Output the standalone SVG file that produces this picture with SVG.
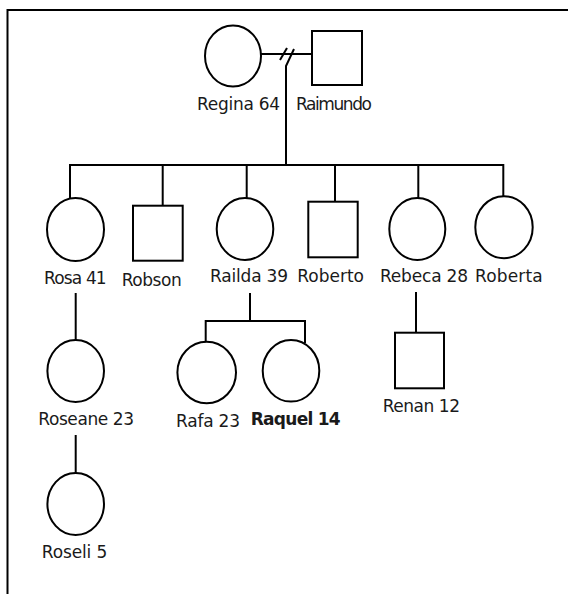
<svg xmlns="http://www.w3.org/2000/svg" width="568" height="594" viewBox="0 0 568 594">
<style>
.s{fill:#fff;stroke:#000;stroke-width:2}
.l{fill:none;stroke:#000;stroke-width:2}
text{font-family:"DejaVu Sans","Liberation Sans",sans-serif;font-size:17px;fill:#1a1a1a}
.b{font-weight:bold}
</style>
<rect width="568" height="594" fill="#fff"/>
<path class="l" d="M7.5,594 V10 H568"/>
<g id="connectors">
<line class="l" x1="261" y1="54" x2="312" y2="54"/>
<line class="l" x1="280" y1="60" x2="287" y2="48"/>
<path class="l" d="M294,49 L286,66 V165"/>
<line class="l" x1="70" y1="165" x2="503.5" y2="165"/>
<line class="l" x1="70" y1="164" x2="70" y2="198"/>
<line class="l" x1="162.7" y1="165" x2="162.7" y2="206"/>
<line class="l" x1="246.7" y1="165" x2="246.7" y2="198"/>
<line class="l" x1="335" y1="165" x2="335" y2="202"/>
<line class="l" x1="418.3" y1="165" x2="418.3" y2="198"/>
<line class="l" x1="503.3" y1="164" x2="503.3" y2="196"/>
<line class="l" x1="75.7" y1="293" x2="75.7" y2="340"/>
<line class="l" x1="75.7" y1="435" x2="75.7" y2="473"/>
<line class="l" x1="250" y1="293" x2="250" y2="321"/>
<line class="l" x1="205.7" y1="321" x2="305" y2="321"/>
<line class="l" x1="205.7" y1="320" x2="205.7" y2="342"/>
<line class="l" x1="305" y1="320" x2="305" y2="343"/>
<line class="l" x1="416" y1="292" x2="416" y2="333"/>
</g>
<g id="regina"><ellipse class="s" cx="233" cy="56" rx="28" ry="30.5"/><text x="197" y="110" textLength="83">Regina 64</text></g>
<g id="raimundo"><rect class="s" x="312" y="31" width="50" height="54"/><text x="296" y="110" textLength="76">Raimundo</text></g>
<g id="rosa"><ellipse class="s" cx="75.5" cy="229.5" rx="28.5" ry="31.5"/><text x="44" y="283.5" textLength="62.7">Rosa 41</text></g>
<g id="robson"><rect class="s" x="133" y="205.7" width="49.7" height="55"/><text x="121.7" y="285.5" textLength="60">Robson</text></g>
<g id="railda"><ellipse class="s" cx="245" cy="229" rx="28.3" ry="31"/><text x="210" y="282" textLength="78">Railda 39</text></g>
<g id="roberto"><rect class="s" x="308.3" y="201.7" width="49.4" height="55.6"/><text x="297.3" y="282" textLength="66.7">Roberto</text></g>
<g id="rebeca"><ellipse class="s" cx="417.3" cy="229" rx="28" ry="31"/><text x="380" y="282" textLength="88">Rebeca 28</text></g>
<g id="roberta"><ellipse class="s" cx="504" cy="227.2" rx="28.7" ry="31"/><text x="475" y="281.5" textLength="67.7">Roberta</text></g>
<g id="roseane"><ellipse class="s" cx="75.7" cy="371" rx="28.3" ry="31"/><text x="38.3" y="425" textLength="95.7">Roseane 23</text></g>
<g id="roseli"><ellipse class="s" cx="75.7" cy="504" rx="28.3" ry="31"/><text x="41.7" y="558.3" textLength="65.6">Roseli 5</text></g>
<g id="rafa"><ellipse class="s" cx="206.7" cy="372.5" rx="29.3" ry="30.8"/><text x="176" y="426.7" textLength="64">Rafa 23</text></g>
<g id="raquel"><ellipse class="s" cx="291" cy="370.8" rx="28.3" ry="30.8"/><text class="b" x="250.7" y="424.5" textLength="90">Raquel 14</text></g>
<g id="renan"><rect class="s" x="395" y="332.7" width="49" height="55.6"/><text x="382.7" y="411.7" textLength="77.3">Renan 12</text></g>
</svg>
